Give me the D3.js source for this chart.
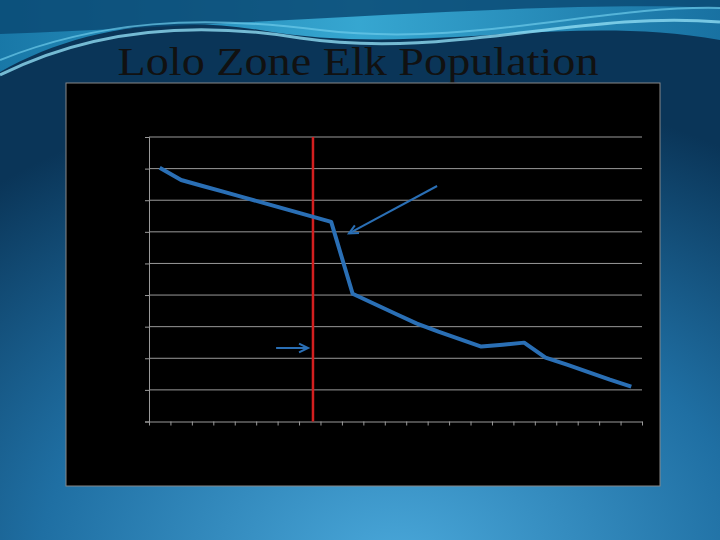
<!DOCTYPE html>
<html><head><meta charset="utf-8">
<script src="https://cdn.jsdelivr.net/npm/d3@7"></script>
<style>html,body{margin:0;padding:0;background:#0b3d63;}svg{display:block}</style>
</head><body>
<script>
const title = "Lolo Zone Elk Population";
const categories = d3.range(1989, 2012).map(String);
const population = [16060,15280,14900,14530,14150,13770,13390,13010,12630,8080,7450,6820,6190,5680,5210,4740,4860,4990,4040,3600,3130,2650,2210];
const yTicks = d3.range(0, 18001, 2000);
const markerPosition = 7.65; // in category-index units
const arrows = [
  {from:[13.44, 14900], to:[9.33, 11900]},
  {from:[5.93, 4650], to:[7.42, 4650]}
];

const W=720,H=540;
const svg=d3.select("body").append("svg").attr("width",W).attr("height",H);
const defs=svg.append("defs");
const bg=defs.append("radialGradient").attr("id","bg").attr("cx","0.55").attr("cy","1.05").attr("r","0.9");
bg.append("stop").attr("offset","0").attr("stop-color","#4aa8da");
bg.append("stop").attr("offset","0.55").attr("stop-color","#1f6fa3");
bg.append("stop").attr("offset","1").attr("stop-color","#0a3558");
svg.append("rect").attr("width",W).attr("height",H).attr("fill","url(#bg)");
const wv=defs.append("linearGradient").attr("id","wv").attr("x1",0).attr("x2",1);
wv.append("stop").attr("offset",0).attr("stop-color","#1a7fb0");
wv.append("stop").attr("offset",0.5).attr("stop-color","#3bb3de");
wv.append("stop").attr("offset",1).attr("stop-color","#1a78aa");
svg.append("path").attr("d","M0,0 H720 V40 C560,12 420,58 260,30 C160,14 70,32 0,72 Z").attr("fill","url(#wv)").attr("opacity",0.9);
svg.append("path").attr("d","M0,0 H720 V8 C560,0 300,22 0,34 Z").attr("fill","#0a4a74").attr("opacity",0.85);
svg.append("path").attr("d","M0,75 C90,30 190,20 300,38 C450,60 580,10 720,22").attr("fill","none").attr("stroke","#8fdcf2").attr("stroke-width",3).attr("opacity",0.8);
svg.append("path").attr("d","M0,60 C100,20 200,15 320,30 C470,48 600,5 720,8").attr("fill","none").attr("stroke","#6ccbea").attr("stroke-width",2).attr("opacity",0.7);

svg.append("text").attr("x",358).attr("y",75).attr("text-anchor","middle")
  .attr("font-family","Liberation Serif, serif").attr("font-size",40)
  .attr("textLength",481).attr("lengthAdjust","spacingAndGlyphs").attr("fill","#111").text(title);

svg.append("rect").attr("x",66).attr("y",83).attr("width",594).attr("height",403).attr("fill","#000").attr("stroke","#888").attr("stroke-width",1);

const x=d3.scaleLinear().domain([0,categories.length]).range([149,642]);
const y=d3.scaleLinear().domain([0,18000]).range([421.5,137]);
const g=svg.append("g");
g.selectAll("line.grid").data(yTicks.filter(d=>d>0)).join("line").attr("class","grid")
  .attr("x1",149).attr("x2",642).attr("y1",d=>y(d)).attr("y2",d=>y(d)).attr("stroke","#9a9a9a").attr("stroke-width",1);
const yAxis=d3.axisLeft(y).tickValues(yTicks).tickSize(4).tickFormat("");
g.append("g").attr("transform","translate(149,0)").call(yAxis).call(s=>{s.selectAll("path,line").attr("stroke","#9a9a9a");});
const xAxis=d3.axisBottom(x).tickValues(d3.range(0,categories.length+1)).tickSize(4).tickSizeOuter(0).tickFormat("");
g.append("g").attr("transform","translate(0,421.5)").call(xAxis).call(s=>{s.selectAll("path,line").attr("stroke","#9a9a9a");});

g.append("line").attr("x1",x(markerPosition)).attr("x2",x(markerPosition)).attr("y1",y(18000)).attr("y2",y(0))
  .attr("stroke","#d21f1f").attr("stroke-width",2.5);

const line=d3.line().x((d,i)=>x(i+0.5)).y(d=>y(d));
g.append("path").datum(population).attr("d",line).attr("fill","none").attr("stroke","#2a6fb5").attr("stroke-width",4).attr("stroke-linejoin","round");

arrows.forEach(a=>{
  const x1=x(a.from[0]),y1=y(a.from[1]),x2=x(a.to[0]),y2=y(a.to[1]);
  const ang=Math.atan2(y2-y1,x2-x1),L=10,s=0.45;
  g.append("line").attr("x1",x1).attr("y1",y1).attr("x2",x2).attr("y2",y2).attr("stroke","#2a6fb5").attr("stroke-width",2);
  g.append("path").attr("d",`M${x2-L*Math.cos(ang-s)},${y2-L*Math.sin(ang-s)} L${x2},${y2} L${x2-L*Math.cos(ang+s)},${y2-L*Math.sin(ang+s)}`)
    .attr("fill","none").attr("stroke","#2a6fb5").attr("stroke-width",2);
});
</script>
</body></html>
